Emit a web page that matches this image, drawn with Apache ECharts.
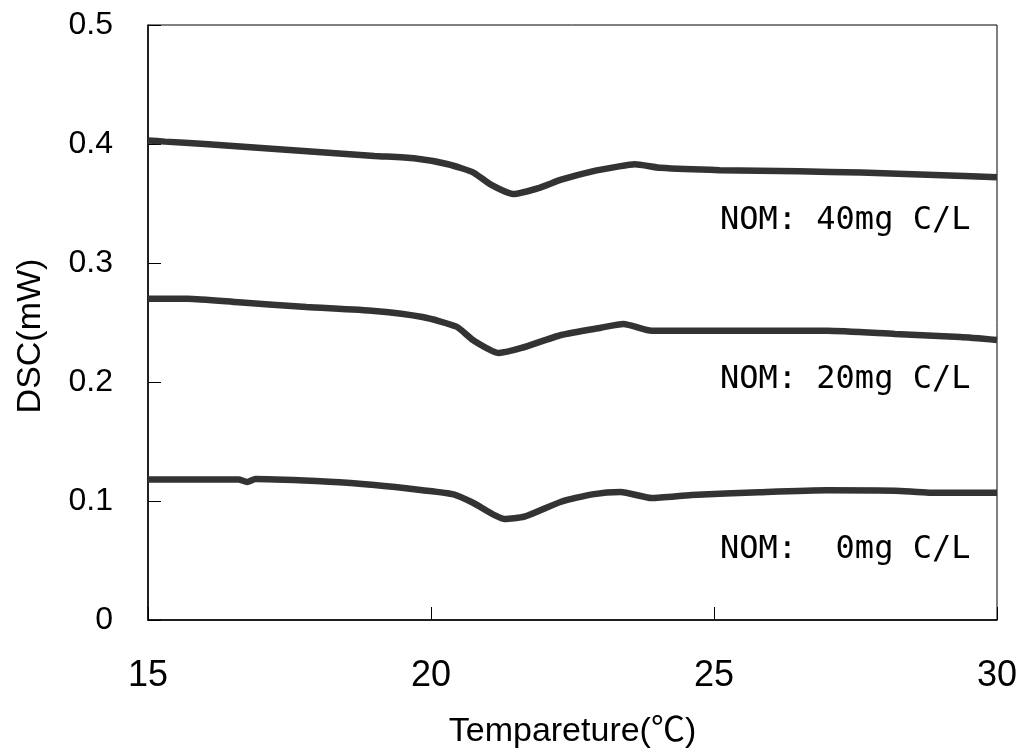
<!DOCTYPE html>
<html><head><meta charset="utf-8">
<script src="https://cdn.jsdelivr.net/npm/echarts@6/dist/echarts.min.js"></script>
<style>html,body{margin:0;padding:0;background:#fff}#c{width:1021px;height:753px}</style>
</head><body><div id="c"></div>
<script>
const xTicks = [15, 20, 25, 30];
const yTicks = [0, 0.1, 0.2, 0.3, 0.4, 0.5];

const t40 = [15, 15.3, 16.0, 17.5, 19.0, 19.7, 20.3, 20.75, 21.05, 21.45, 21.9, 22.3, 22.85, 23.3, 23.6, 24.05, 25.1, 26.5, 27.6, 28.9, 30];
const v40 = [0.403, 0.402, 0.400, 0.395, 0.390, 0.388, 0.383, 0.376, 0.366, 0.358, 0.363, 0.370, 0.377, 0.381, 0.383, 0.380, 0.378, 0.377, 0.376, 0.374, 0.372];

const t20 = [15, 15.7, 16.6, 17.8, 19.0, 19.85, 20.45, 20.75, 21.2, 21.6, 22.3, 23.0, 23.4, 23.9, 25.0, 27.0, 28.2, 29.35, 30];
const v20 = [0.270, 0.270, 0.267, 0.263, 0.2597, 0.2546, 0.2465, 0.235, 0.2244, 0.2286, 0.2395, 0.2456, 0.2487, 0.243, 0.243, 0.243, 0.2403, 0.2378, 0.2353];

const t0 = [15, 16.6, 16.75, 16.9, 18.2, 19.0, 19.85, 20.4, 20.75, 21.3, 21.65, 22.3, 22.85, 23.35, 23.9, 24.6, 25.8, 27.0, 28.2, 28.8, 30];
const v0 = [0.118, 0.118, 0.116, 0.1185, 0.1162, 0.1134, 0.109, 0.1055, 0.0983, 0.0849, 0.0868, 0.0994, 0.1056, 0.1076, 0.1025, 0.105, 0.1073, 0.109, 0.1087, 0.107, 0.107];

const labels = ['NOM: 40mg C/L', 'NOM: 20mg C/L', 'NOM:  0mg C/L'];
const yTitle = 'DSC(mW)';
const xTitle = 'Tempareture(℃)';

const pairs = (t, v) => t.map((x, i) => [x, v[i]]);
const lineStyle = { color: '#333', width: 6.5 };
const mk = (t, v) => ({ type: 'line', data: pairs(t, v), showSymbol: false, smooth: 0.2, lineStyle, itemStyle: { color: '#333' }, animation: false });

const chart = echarts.init(document.getElementById('c'));
const titleFont = '"Liberation Sans", "Noto Sans CJK JP", sans-serif';
const labelFont = '32px "DejaVu Sans Mono", monospace';
chart.setOption({
  animation: false,
  backgroundColor: '#fff',
  grid: { left: 148, right: 24, top: 25, bottom: 133, containLabel: false, outerBoundsMode: 'none', show: true, borderColor: '#000', borderWidth: 1, backgroundColor: 'transparent' },
  xAxis: {
    type: 'value', min: xTicks[0], max: xTicks[xTicks.length - 1], interval: 5,
    axisLine: { lineStyle: { color: '#000', width: 1.5 } },
    axisTick: { inside: true, length: 13, lineStyle: { color: '#000' } },
    axisLabel: { margin: 38, fontFamily: '"Liberation Sans Narrow", "Liberation Sans", sans-serif', fontSize: 36, color: '#000' },
    splitLine: { show: false },
    name: xTitle, nameLocation: 'middle', nameGap: 95,
    nameTextStyle: { fontFamily: titleFont, fontSize: 34, color: '#000' }
  },
  yAxis: {
    type: 'value', min: 0, max: 0.5, interval: 0.1,
    axisLine: { lineStyle: { color: '#000', width: 1.5 } },
    axisTick: { inside: true, length: 13, lineStyle: { color: '#000' } },
    axisLabel: { margin: 35, formatter: v => (v === 0 ? '0' : v.toFixed(1)), fontFamily: '"Liberation Sans", Arial, sans-serif', fontSize: 32, color: '#000' },
    splitLine: { show: false }
  },
  series: [mk(t40, v40), mk(t20, v20), mk(t0, v0)],
  graphic: [
    { type: 'text', x: 31, y: 336, rotation: Math.PI / 2, style: { text: yTitle, font: '34px "Liberation Sans", "Noto Sans CJK JP", sans-serif', fill: '#000', align: 'center', verticalAlign: 'middle' } },
    { type: 'text', x: 720, y: 220.5, style: { text: labels[0], font: labelFont, fill: '#000', verticalAlign: 'middle' } },
    { type: 'text', x: 720, y: 380, style: { text: labels[1], font: labelFont, fill: '#000', verticalAlign: 'middle' } },
    { type: 'text', x: 720, y: 550, style: { text: labels[2], font: labelFont, fill: '#000', verticalAlign: 'middle' } }
  ]
});
</script></body></html>
